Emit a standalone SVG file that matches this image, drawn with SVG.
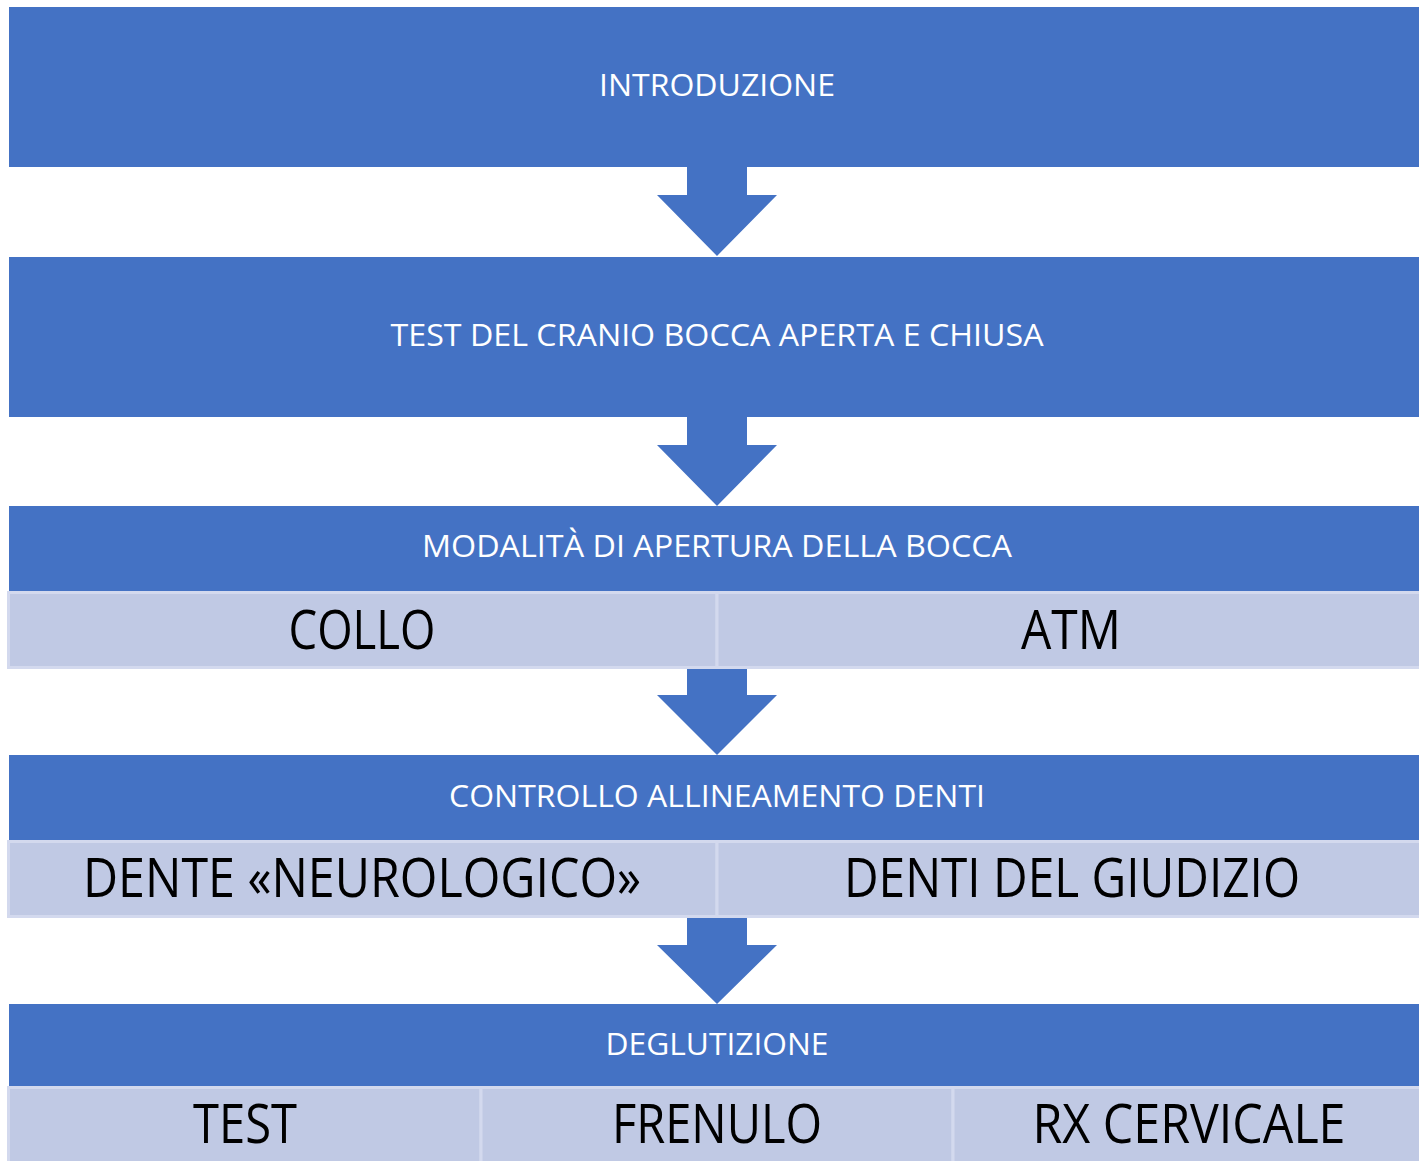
<svg xmlns="http://www.w3.org/2000/svg" width="1419" height="1161" viewBox="0 0 1419 1161">
<style>
.bar{fill:#4472C4}
.cell{fill:#C0C9E4;stroke:#D3D9EE;stroke-width:3}
.arrow{fill:#4472C4}
.t{font-family:"Open Sans","Noto Sans","Liberation Sans",sans-serif;fill:#FFFFFF;font-size:31px;text-anchor:middle}
.b{font-family:"Open Sans","Noto Sans","Liberation Sans",sans-serif;fill:#000000;font-size:54px;text-anchor:middle}
</style>
<rect width="1419" height="1161" fill="#FFFFFF"/>
<g id="connectors">
<path class="arrow" d="M687,167 H747 V195 H777 L717,256 L657,195 H687 Z"/>
<path class="arrow" d="M687,417 H747 V445 H777 L717,506 L657,445 H687 Z"/>
<path class="arrow" d="M687,668 H747 V695 H777 L717,755 L657,695 H687 Z"/>
<path class="arrow" d="M687,917 H747 V945 H777 L717,1004 L657,945 H687 Z"/>
</g>
<g id="introduzione">
<rect class="bar" x="9" y="7" width="1412" height="160"/>
<text class="t" x="717" y="96" textLength="236" lengthAdjust="spacingAndGlyphs">INTRODUZIONE</text>
</g>
<g id="test-cranio">
<rect class="bar" x="9" y="257" width="1412" height="160"/>
<text class="t" x="717" y="346" textLength="653" lengthAdjust="spacingAndGlyphs">TEST DEL CRANIO BOCCA APERTA E CHIUSA</text>
</g>
<g id="modalita">
<rect class="bar" x="9" y="506" width="1412" height="86"/>
<text class="t" x="717" y="557" textLength="590" lengthAdjust="spacingAndGlyphs">MODALITÀ DI APERTURA DELLA BOCCA</text>
</g>
<g id="collo">
<rect class="cell" x="8.5" y="592.5" width="708.5" height="75"/>
<text class="b" x="362" y="649" textLength="147" lengthAdjust="spacingAndGlyphs">COLLO</text>
</g>
<g id="atm">
<rect class="cell" x="717" y="592.5" width="705" height="75"/>
<text class="b" x="1071" y="649" textLength="100" lengthAdjust="spacingAndGlyphs">ATM</text>
</g>
<g id="controllo">
<rect class="bar" x="9" y="755" width="1412" height="86"/>
<text class="t" x="717" y="807" textLength="536" lengthAdjust="spacingAndGlyphs">CONTROLLO ALLINEAMENTO DENTI</text>
</g>
<g id="dente-neurologico">
<rect class="cell" x="8.5" y="841.5" width="708.5" height="75"/>
<text class="b" x="362" y="897" textLength="558" lengthAdjust="spacingAndGlyphs">DENTE «NEUROLOGICO»</text>
</g>
<g id="denti-giudizio">
<rect class="cell" x="717" y="841.5" width="705" height="75"/>
<text class="b" x="1072" y="897" textLength="456" lengthAdjust="spacingAndGlyphs">DENTI DEL GIUDIZIO</text>
</g>
<g id="deglutizione">
<rect class="bar" x="9" y="1004" width="1412" height="83"/>
<text class="t" x="717" y="1055" textLength="223" lengthAdjust="spacingAndGlyphs">DEGLUTIZIONE</text>
</g>
<g id="test">
<rect class="cell" x="8.5" y="1087.5" width="472.5" height="76"/>
<text class="b" x="245" y="1143" textLength="104" lengthAdjust="spacingAndGlyphs">TEST</text>
</g>
<g id="frenulo">
<rect class="cell" x="481" y="1087.5" width="472" height="76"/>
<text class="b" x="717" y="1143" textLength="210" lengthAdjust="spacingAndGlyphs">FRENULO</text>
</g>
<g id="rx-cervicale">
<rect class="cell" x="953" y="1087.5" width="469" height="76"/>
<text class="b" x="1189" y="1143" textLength="313" lengthAdjust="spacingAndGlyphs">RX CERVICALE</text>
</g>
</svg>
